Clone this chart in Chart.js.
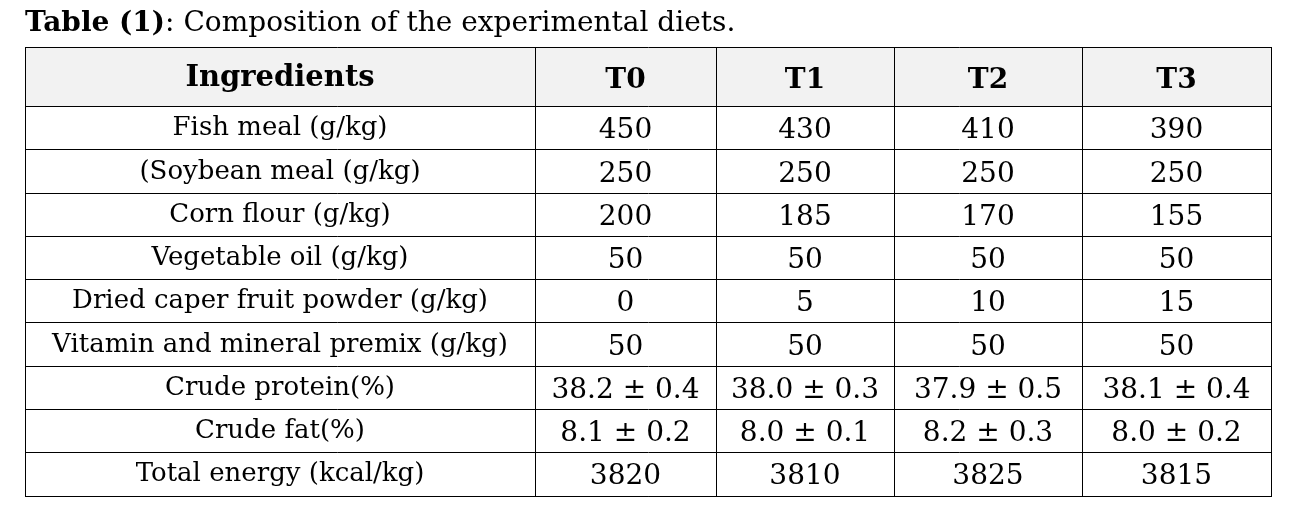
<!DOCTYPE html>
<html>
<head>
<meta charset="utf-8">
<script src="https://cdn.jsdelivr.net/npm/chart.js@4.4.1/dist/chart.umd.min.js"></script>
<style>
  html, body { margin: 0; padding: 0; background: #fff; }
  #wrap { width: 1300px; height: 524px; }
</style>
</head>
<body>
<div id="wrap"><canvas id="dietTable" width="1300" height="524"></canvas></div>
<script>
// Table content
const ingredients = [
  'Fish meal (g/kg)',
  '(Soybean meal (g/kg)',
  'Corn flour (g/kg)',
  'Vegetable oil (g/kg)',
  'Dried caper fruit powder (g/kg)',
  'Vitamin and mineral premix (g/kg)',
  'Crude protein(%)',
  'Crude fat(%)',
  'Total energy (kcal/kg)'
];
const diets = ['T0', 'T1', 'T2', 'T3'];
const t0Values = [450, 250, 200, 50, 0, 50, 38.2, 8.1, 3820];
const t1Values = [430, 250, 185, 50, 5, 50, 38.0, 8.0, 3810];
const t2Values = [410, 250, 170, 50, 10, 50, 37.9, 8.2, 3825];
const t3Values = [390, 250, 155, 50, 15, 50, 38.1, 8.0, 3815];
const t0Sd = [null, null, null, null, null, null, 0.4, 0.2, null];
const t1Sd = [null, null, null, null, null, null, 0.3, 0.1, null];
const t2Sd = [null, null, null, null, null, null, 0.5, 0.3, null];
const t3Sd = [null, null, null, null, null, null, 0.4, 0.2, null];

// Layout (column widths / row heights in table units)
const colWidths = [510, 181, 178, 188, 189];
const headerHeight = 1.38;
const colEdges = colWidths.reduce((acc, w) => { acc.push(acc[acc.length - 1] + w); return acc; }, [0]);
const rowEdges = [0, headerHeight];
ingredients.forEach((_, i) => rowEdges.push(headerHeight + i + 1));
const colCenter = (c) => (colEdges[c] + colEdges[c + 1]) / 2;
const rowCenter = (r) => headerHeight + r + 0.5; // data rows

const fmtCell = (v, sd) => sd == null ? String(v) : `${v.toFixed(1)} ± ${sd.toFixed(1)}`;

const TEXT_FONT = '"DejaVu Serif", serif';
const seriesVals = [t0Values, t1Values, t2Values, t3Values];
const seriesSd = [t0Sd, t1Sd, t2Sd, t3Sd];

// one dataset for the ingredient names, one per diet column
const datasets = [{
  label: 'Ingredients',
  data: ingredients.map((name, i) => ({ x: colCenter(0), y: rowCenter(i), text: name })),
  kind: 'label'
}];
diets.forEach((d, k) => {
  datasets.push({
    label: d,
    data: seriesVals[k].map((v, i) => ({ x: colCenter(k + 1), y: rowCenter(i), text: fmtCell(v, seriesSd[k][i]) })),
    kind: 'value'
  });
});
datasets.forEach(ds => { ds.pointRadius = 0; ds.pointHoverRadius = 0; ds.showLine = false; });

const tablePlugin = {
  id: 'tablePlugin',
  beforeDraw(chart) {
    const { ctx, scales: { x, y } } = chart;
    ctx.save();
    ctx.fillStyle = '#f2f2f2';
    const top = y.getPixelForValue(0), bot = y.getPixelForValue(headerHeight);
    ctx.fillRect(x.getPixelForValue(0), top, x.getPixelForValue(colEdges[colEdges.length - 1]) - x.getPixelForValue(0), bot - top);
    ctx.restore();
  },
  afterDatasetsDraw(chart) {
    const { ctx, scales: { x, y } } = chart;
    ctx.save();
    ctx.fillStyle = '#000';
    ctx.textAlign = 'center';
    ctx.textBaseline = 'alphabetic';

    // header row
    const hy = (y.getPixelForValue(0) + y.getPixelForValue(headerHeight)) / 2;
    ctx.font = 'bold 29px ' + TEXT_FONT;
    ctx.fillText('Ingredients', x.getPixelForValue(colCenter(0)), hy + 9);
    ctx.font = 'bold 28px ' + TEXT_FONT;
    diets.forEach((d, k) => ctx.fillText(d, x.getPixelForValue(colCenter(k + 1)), hy + 11));

    // body cells
    chart.data.datasets.forEach((ds, di) => {
      const meta = chart.getDatasetMeta(di);
      meta.data.forEach((pt, i) => {
        const raw = ds.data[i];
        if (ds.kind === 'label') {
          ctx.font = '26px ' + TEXT_FONT;
          ctx.fillText(raw.text, pt.x, pt.y + 7);
        } else {
          ctx.font = '28px ' + TEXT_FONT;
          ctx.fillText(raw.text, pt.x, pt.y + 10);
        }
      });
    });

    // caption
    ctx.textAlign = 'left';
    ctx.font = 'bold 28px ' + TEXT_FONT;
    const lead = 'Table (1)';
    ctx.fillText(lead, 25, 31);
    const w = ctx.measureText(lead).width;
    ctx.font = '28px ' + TEXT_FONT;
    ctx.fillText(': Composition of the experimental diets.', 25 + w, 31);
    ctx.restore();
  }
};

new Chart(document.getElementById('dietTable'), {
  type: 'scatter',
  data: { datasets },
  options: {
    responsive: false,
    animation: false,
    events: [],
    layout: { padding: { left: 25, right: 29, top: 47, bottom: 28 } },
    plugins: { legend: { display: false }, tooltip: { enabled: false } },
    scales: {
      x: {
        type: 'linear',
        min: 0,
        max: colEdges[colEdges.length - 1],
        afterBuildTicks: (s) => { s.ticks = colEdges.map(v => ({ value: v })); },
        ticks: { display: false },
        grid: { color: '#000', lineWidth: 1, drawTicks: false },
        border: { display: true, color: '#000', width: 1 }
      },
      y: {
        type: 'linear',
        reverse: true,
        min: 0,
        max: rowEdges[rowEdges.length - 1],
        afterBuildTicks: (s) => { s.ticks = rowEdges.map(v => ({ value: v })); },
        ticks: { display: false },
        grid: { color: '#000', lineWidth: 1, drawTicks: false },
        border: { display: true, color: '#000', width: 1 }
      }
    }
  },
  plugins: [tablePlugin]
});
</script>
</body>
</html>
